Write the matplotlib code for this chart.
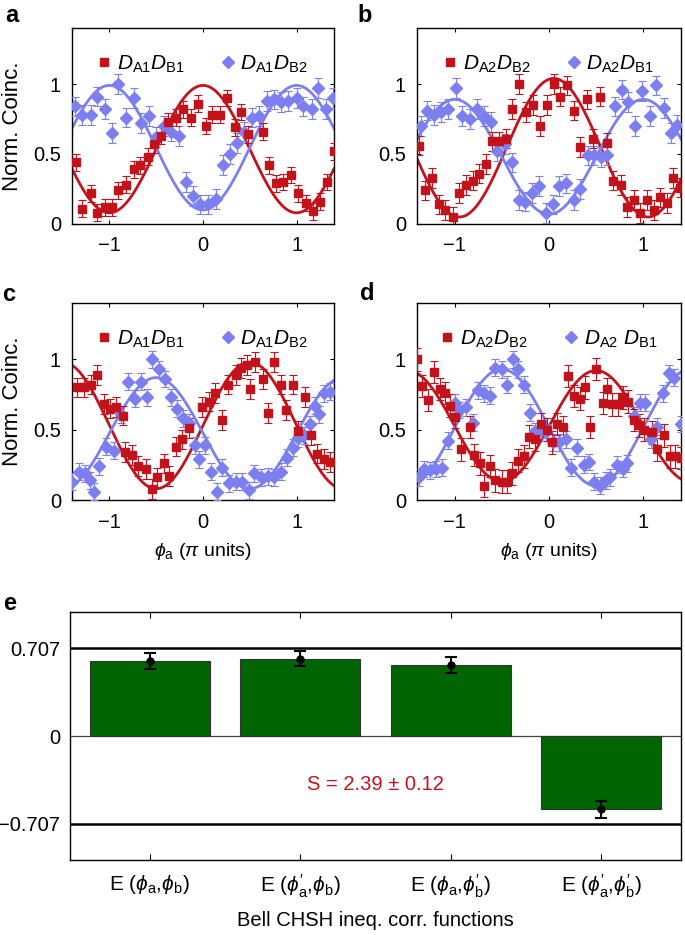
import matplotlib

matplotlib.use("Agg")

import matplotlib.pyplot as plt
import numpy as np
from matplotlib.lines import Line2D

# ---- panel a ----
a_red_x = [-1.36, -1.29, -1.20, -1.13, -1.05, -0.97, -0.91, -0.82, -0.74, -0.67, -0.59, -0.52,
           -0.45, -0.37, -0.29, -0.21, -0.13, -0.05, 0.03, 0.10, 0.18, 0.26, 0.34, 0.41,
           0.48, 0.64, 0.71, 0.78, 0.86, 0.94, 1.02, 1.10, 1.18, 1.25, 1.33, 1.40]
a_red_y = [0.44, 0.11, 0.22, 0.08, 0.12, 0.12, 0.24, 0.28, 0.39, 0.42, 0.48, 0.57,
           0.63, 0.73, 0.76, 0.82, 0.76, 0.86, 0.70, 0.78, 0.78, 0.90, 0.69, 0.80,
           0.64, 0.66, 0.42, 0.29, 0.30, 0.35, 0.22, 0.15, 0.09, 0.16, 0.30, 0.52]
a_blue_x = [-1.37, -1.29, -1.20, -1.13, -1.05, -0.97, -0.91, -0.82, -0.74, -0.66, -0.58, -0.50,
            -0.42, -0.34, -0.26, -0.18, -0.11, -0.03, 0.05, 0.14, 0.21, 0.29, 0.36, 0.44,
            0.52, 0.60, 0.68, 0.76, 0.83, 0.91, 1.00, 1.07, 1.16, 1.23, 1.31, 1.39]
a_blue_y = [0.84, 0.78, 0.78, 0.91, 0.82, 0.65, 1.00, 0.76, 0.90, 0.72, 0.77, 0.62,
            0.70, 0.66, 0.63, 0.30, 0.20, 0.14, 0.14, 0.18, 0.42, 0.50, 0.58, 0.66,
            0.76, 0.77, 0.88, 0.89, 0.87, 0.88, 0.90, 0.84, 0.82, 0.97, 0.82, 0.90]

# ---- panel b ----
b_red_x = [-1.38, -1.31, -1.24, -1.17, -1.10, -1.02, -0.95, -0.88, -0.81, -0.74, -0.67, -0.60,
           -0.53, -0.46, -0.39, -0.32, -0.24, -0.17, -0.10, -0.02, 0.05, 0.12, 0.19, 0.26,
           0.33, 0.40, 0.47, 0.54, 0.61, 0.68, 0.76, 0.83, 0.90, 0.97, 1.04, 1.11,
           1.18, 1.25, 1.32, 1.39]
b_red_y = [0.56, 0.24, 0.33, 0.14, 0.10, 0.05, 0.22, 0.28, 0.31, 0.36, 0.43, 0.59,
           0.59, 0.61, 0.82, 1.00, 0.80, 0.85, 0.70, 0.85, 1.00, 0.91, 0.99, 0.81,
           0.55, 0.89, 0.61, 0.91, 0.58, 0.31, 0.28, 0.12, 0.17, 0.08, 0.17, 0.10,
           0.19, 0.15, 0.33, 0.26]
b_blue_x = [-1.36, -1.29, -1.22, -1.15, -1.07, -0.99, -0.92, -0.84, -0.76, -0.69, -0.62, -0.55,
            -0.47, -0.39, -0.32, -0.25, -0.18, -0.11, -0.03, 0.04, 0.11, 0.18, 0.26, 0.33,
            0.41, 0.48, 0.55, 0.62, 0.70, 0.77, 0.84, 0.91, 0.99, 1.07, 1.14, 1.22,
            1.29, 1.36]
b_blue_y = [0.70, 0.81, 0.78, 0.80, 0.82, 0.97, 0.77, 0.75, 0.82, 0.77, 0.73, 0.52,
            0.57, 0.44, 0.17, 0.16, 0.22, 0.27, 0.08, 0.14, 0.27, 0.29, 0.17, 0.25,
            0.49, 0.49, 0.48, 0.49, 0.84, 0.96, 0.87, 0.70, 0.95, 0.77, 0.99, 0.83,
            0.65, 0.71]

# ---- panel c ----
c_red_x = [-1.35, -1.27, -1.20, -1.13, -1.06, -0.99, -0.93, -0.86, -0.83, -0.76, -0.69, -0.61,
           -0.55, -0.49, -0.42, -0.36, -0.29, -0.22, -0.15, -0.01, 0.06, 0.13, 0.20, 0.27,
           0.35, 0.41, 0.47, 0.50, 0.56, 0.64, 0.69, 0.76, 0.83, 0.89, 0.96, 1.01,
           1.09, 1.15, 1.22, 1.29, 1.36]
c_red_y = [0.80, 0.80, 0.82, 0.89, 0.68, 0.65, 0.66, 0.60, 0.34, 0.32, 0.24, 0.22,
           0.08, 0.16, 0.26, 0.17, 0.38, 0.43, 0.51, 0.66, 0.70, 0.76, 0.57, 0.82,
           0.89, 0.94, 0.96, 0.79, 0.98, 0.86, 0.62, 0.98, 0.82, 0.64, 0.82, 0.49,
           0.73, 0.46, 0.33, 0.29, 0.27]
c_blue_x = [-1.40, -1.33, -1.26, -1.21, -1.16, -1.11, -1.04, -0.95, -0.88, -0.80, -0.73, -0.66,
            -0.60, -0.54, -0.47, -0.41, -0.34, -0.28, -0.21, -0.15, -0.09, -0.04, 0.02, 0.09,
            0.15, 0.20, 0.28, 0.35, 0.42, 0.49, 0.55, 0.62, 0.69, 0.76, 0.83, 0.90,
            0.96, 1.02, 1.08, 1.14, 1.20, 1.24, 1.29, 1.36]
c_blue_y = [0.13, 0.20, 0.19, 0.14, 0.06, 0.24, 0.38, 0.35, 0.61, 0.84, 0.72, 0.84,
            0.73, 1.00, 0.93, 0.86, 0.73, 0.65, 0.58, 0.55, 0.39, 0.29, 0.39, 0.20,
            0.06, 0.23, 0.12, 0.13, 0.13, 0.07, 0.19, 0.16, 0.17, 0.16, 0.20, 0.30,
            0.37, 0.44, 0.46, 0.54, 0.67, 0.61, 0.76, 0.77]

# ---- panel d ----
d_red_x = [-1.40, -1.35, -1.28, -1.22, -1.16, -1.10, -1.05, -1.00, -0.93, -0.84, -0.80, -0.73,
           -0.69, -0.63, -0.57, -0.50, -0.45, -0.39, -0.33, -0.27, -0.21, -0.15, -0.08, -0.02,
           0.03, 0.09, 0.15, 0.20, 0.27, 0.33, 0.38, 0.44, 0.50, 0.57, 0.62, 0.67,
           0.73, 0.78, 0.84, 0.90, 0.95, 1.01, 1.09, 1.15, 1.22, 1.28, 1.34, 1.40]
d_red_y = [1.00, 0.81, 0.71, 0.91, 0.79, 0.76, 0.67, 0.59, 0.36, 0.52, 0.32, 0.26,
           0.10, 0.24, 0.14, 0.13, 0.13, 0.19, 0.28, 0.31, 0.45, 0.43, 0.54, 0.50,
           0.41, 0.54, 0.52, 0.88, 0.74, 0.72, 0.80, 0.52, 0.93, 0.69, 0.79, 0.68,
           0.68, 0.73, 0.70, 0.57, 0.53, 0.50, 0.48, 0.36, 0.46, 0.31, 0.31, 0.30]
d_blue_x = [-1.38, -1.33, -1.26, -1.20, -1.13, -1.07, -1.00, -0.95, -0.88, -0.81, -0.75, -0.69,
            -0.63, -0.57, -0.50, -0.45, -0.38, -0.33, -0.27, -0.20, -0.15, -0.09, -0.03, 0.04,
            0.11, 0.18, 0.23, 0.30, 0.37, 0.42, 0.48, 0.54, 0.60, 0.65, 0.72, 0.78,
            0.83, 0.90, 0.96, 1.02, 1.08, 1.15, 1.21, 1.27, 1.33, 1.40]
d_blue_y = [0.16, 0.22, 0.21, 0.22, 0.23, 0.42, 0.69, 0.64, 0.66, 0.55, 0.78, 0.76,
            0.74, 0.94, 0.93, 0.82, 1.00, 0.93, 0.82, 0.62, 0.49, 0.50, 0.48, 0.41,
            0.41, 0.43, 0.23, 0.37, 0.25, 0.27, 0.13, 0.10, 0.14, 0.16, 0.25, 0.22,
            0.26, 0.60, 0.69, 0.69, 0.43, 0.52, 0.76, 0.90, 0.87, 0.54]

# error bar half-widths per panel (red, blue)
panel_err = [(0.06, 0.07), (0.07, 0.07), (0.07, 0.06), (0.08, 0.06)]

# sinusoidal fits: offset, amplitude, phase centre (pi units)
fit_red = [(0.535, 0.455, 0.0), (0.545, 0.495, 0.05), (0.53, 0.45, 0.5), (0.525, 0.395, 0.5)]
fit_blue = [(0.545, 0.445, 1.0), (0.48, 0.41, 1.0), (0.475, 0.395, -0.5), (0.515, 0.415, -0.5)]

legend_red = [r"$D_{\mathrm{A1}}D_{\mathrm{B1}}$", r"$D_{\mathrm{A2}}D_{\mathrm{B2}}$",
              r"$D_{\mathrm{A1}}D_{\mathrm{B1}}$", r"$D_{\mathrm{A2}}D_{\mathrm{B2}}$"]
legend_blue = [r"$D_{\mathrm{A1}}D_{\mathrm{B2}}$", r"$D_{\mathrm{A2}}D_{\mathrm{B1}}$",
               r"$D_{\mathrm{A1}}D_{\mathrm{B2}}$", r"$D_{\mathrm{A2}}\ D_{\mathrm{B1}}$"]

# ---- panel e ----
chsh_labels = [r"E ($\phi_\mathrm{a}$,$\phi_\mathrm{b}$)",
               r"E (${\phi}^{\prime}_\mathrm{a}$,$\phi_\mathrm{b}$)",
               r"E ($\phi_\mathrm{a}$,${\phi}^{\prime}_\mathrm{b}$)",
               r"E (${\phi}^{\prime}_\mathrm{a}$,${\phi}^{\prime}_\mathrm{b}$)"]
chsh_values = [0.607, 0.624, 0.575, -0.591]
chsh_errors = [0.063, 0.063, 0.066, 0.067]
classical_bound = 0.707
s_text = "S = 2.39 ± 0.12"

RED = "#c4121b"
BLUE = "#7b7ff0"
GREEN = "#006400"


def main():
    plt.rcParams.update(
        {
            "font.family": ["Liberation Sans", "DejaVu Sans"],
            "font.size": 14,
            "mathtext.fontset": "custom",
            "mathtext.rm": "Liberation Sans",
            "mathtext.it": "Liberation Sans:italic",
            "mathtext.bf": "Liberation Sans:bold",
            "axes.linewidth": 1.0,
        }
    )

    W, H = 685, 935
    fig = plt.figure(figsize=(W / 100, H / 100), dpi=100)

    def px_axes(left, top, right, bottom):
        return fig.add_axes([left / W, 1 - bottom / H, (right - left) / W, (bottom - top) / H])

    boxes = [(72, 28, 334, 224), (417, 28, 681, 224), (72, 303, 334, 500), (417, 303, 681, 500)]
    red_data = [(a_red_x, a_red_y), (b_red_x, b_red_y), (c_red_x, c_red_y), (d_red_x, d_red_y)]
    blue_data = [(a_blue_x, a_blue_y), (b_blue_x, b_blue_y), (c_blue_x, c_blue_y), (d_blue_x, d_blue_y)]
    letters = ["a", "b", "c", "d"]
    letter_pos = [(12, 15), (365, 15), (9, 295), (367, 293)]

    xs = np.linspace(-1.4, 1.4, 400)
    for i, box in enumerate(boxes):
        ax = px_axes(*box)
        er, eb = panel_err[i]
        rx, ry = red_data[i]
        bx, by = blue_data[i]
        ax.errorbar(bx, by, yerr=eb, fmt="D", color=BLUE, ms=6.5, mec=BLUE,
                    elinewidth=0.8, capsize=3, capthick=0.8, zorder=3)
        ax.errorbar(rx, ry, yerr=er, fmt="s", color=RED, ms=6, mec=RED,
                    elinewidth=0.8, capsize=3, capthick=0.8, zorder=3)
        o, a, c = fit_red[i]
        ax.plot(xs, o + a * np.cos(np.pi * (xs - c)), color=RED, lw=2, zorder=2)
        o, a, c = fit_blue[i]
        ax.plot(xs, o + a * np.cos(np.pi * (xs - c)), color=BLUE, lw=2, zorder=2)

        ax.set_xlim(-1.4, 1.4)
        ax.set_ylim(0, 1.4)
        ax.set_xticks([-1, 0, 1])
        ax.set_yticks([0, 0.5, 1])
        ax.set_yticklabels(["0", "0.5", "1"])
        ax.tick_params(direction="in", top=True, right=True, length=3, labelsize=14.5)
        ax.tick_params(axis="x", pad=9)
        ax.tick_params(axis="y", pad=8)

        handles = [
            Line2D([], [], ls="none", marker="s", color=RED, ms=6),
            Line2D([], [], ls="none", marker="D", color=BLUE, ms=6.5),
        ]
        ax.legend(handles, [legend_red[i], legend_blue[i]], ncol=2, loc="upper center",
                  bbox_to_anchor=(0.5, 0.965), frameon=False, fontsize=15,
                  handlelength=0.6, handletextpad=0.3, columnspacing=1.8)

        if i in (0, 2):
            ax.set_ylabel("Norm. Coinc.", fontsize=16, labelpad=7)
        if i in (2, 3):
            ax.set_xlabel(r"$\phi_\mathrm{a}$ ($\pi$ units)", fontsize=14, labelpad=7)
        fig.text(letter_pos[i][0] / W, 1 - letter_pos[i][1] / H, letters[i],
                 fontsize=17, fontweight="bold", ha="center", va="center")

    # ---- panel e ----
    ax = px_axes(70, 612, 681, 860)
    pos = np.arange(1, len(chsh_values) + 1)
    ax.bar(pos, chsh_values, width=0.8, color=GREEN, edgecolor="#333333", linewidth=0.8, zorder=2)
    ax.errorbar(pos, chsh_values, yerr=chsh_errors, fmt="o", color="black", ms=5,
                elinewidth=1.5, capsize=4, capthick=1.5, zorder=4)
    ax.axhline(classical_bound, color="black", lw=1.8, zorder=3)
    ax.axhline(-classical_bound, color="black", lw=1.8, zorder=3)
    ax.axhline(0, color="#444444", lw=0.9, zorder=1)
    ax.text(2.5, -0.39, s_text, color=RED, fontsize=14.5, ha="center", va="center")
    ax.set_xlim(0.47, 4.53)
    ax.set_ylim(-1, 1)
    ax.set_xticks(pos)
    ax.set_xticklabels(chsh_labels, fontsize=15)
    ax.set_yticks([-classical_bound, 0, classical_bound])
    ax.set_yticklabels(["\u22120.707", "0", "0.707"], fontsize=14.5)
    ax.tick_params(axis="x", direction="in", top=True, length=4, pad=9)
    ax.tick_params(axis="y", length=0, pad=7)
    ax.set_xlabel("Bell CHSH ineq. corr. functions", fontsize=14.5, labelpad=8)
    fig.text(10 / W, 1 - 604 / H, "e", fontsize=17, fontweight="bold", ha="center", va="center")

    fig.savefig("out.png", dpi=100)


if __name__ == "__main__":
    main()
